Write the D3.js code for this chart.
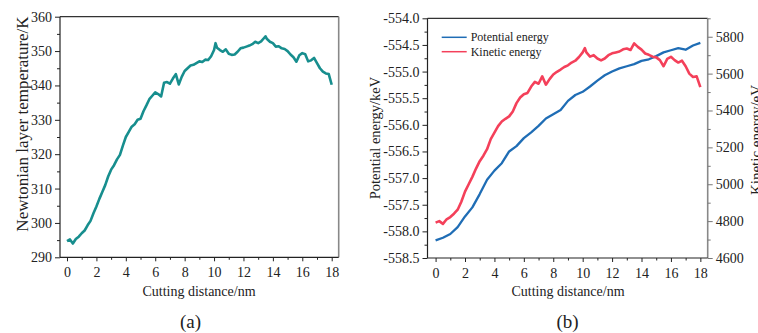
<!DOCTYPE html>
<html><head><meta charset="utf-8">
<script src="https://cdn.jsdelivr.net/npm/d3@7"></script>
<style>
html,body{margin:0;padding:0;background:#fff;}
svg text{font-family:"Liberation Serif","Times New Roman",serif !important;fill:#222;}
</style></head>
<body><svg id="c" width="758" height="333"></svg>
<script>
// ---------- Data ----------
const distA = [0,0.2,0.4,0.6,0.8,1.0,1.2,1.4,1.6,1.8,2.0,2.2,2.4,2.6,2.8,3.0,3.2,3.4,3.6,3.8,4.0,4.2,4.4,4.6,4.8,5.0,5.2,5.4,5.6,5.8,6.0,6.2,6.4,6.6,6.8,7.0,7.2,7.4,7.6,7.8,8.0,8.2,8.4,8.6,8.8,9.0,9.2,9.4,9.6,9.8,10.0,10.1,10.2,10.4,10.6,10.8,11.0,11.2,11.4,11.6,11.8,12.0,12.2,12.4,12.6,12.8,13.0,13.2,13.4,13.5,13.6,13.8,14.0,14.2,14.4,14.6,14.8,15.0,15.2,15.4,15.6,15.8,16.0,16.2,16.4,16.6,16.8,17.0,17.2,17.4,17.6,17.8,18.0];
const tempA = [294.7,295.2,294.0,295.3,296.0,297.0,297.8,299.3,300.6,302.8,304.8,307.0,309.0,311.0,313.5,315.5,316.8,318.5,319.8,322.5,325.0,326.5,328.0,328.7,330.0,330.3,332.5,334.2,336.0,337.0,338.0,337.5,336.8,340.8,341.0,340.5,342.0,343.3,340.3,342.5,344.2,345.0,345.8,346.0,346.5,347.0,346.8,347.5,347.4,348.5,350.3,352.3,351.0,350.3,349.8,350.5,349.2,348.9,349.0,349.8,350.8,351.0,351.3,351.6,352.0,352.7,352.3,352.8,353.8,354.3,353.5,352.7,352.3,351.3,351.4,350.8,350.6,350.0,349.0,348.2,346.9,348.8,349.4,349.1,347.0,347.3,348.0,346.5,345.0,344.0,343.5,343.3,340.2];

const distPE = [0,0.5,1.0,1.5,2.0,2.5,3.0,3.5,4.0,4.5,5.0,5.5,6.0,6.5,7.0,7.5,8.0,8.5,9.0,9.5,10.0,10.5,11.0,11.5,12.0,12.5,13.0,13.5,14.0,14.5,15.0,15.5,16.0,16.5,17.0,17.5,18.0];
const potential = [-558.17,-558.12,-558.05,-557.92,-557.72,-557.55,-557.3,-557.03,-556.86,-556.72,-556.5,-556.4,-556.25,-556.14,-556.02,-555.88,-555.8,-555.72,-555.55,-555.44,-555.38,-555.28,-555.17,-555.07,-555.0,-554.94,-554.9,-554.86,-554.8,-554.77,-554.71,-554.64,-554.6,-554.56,-554.59,-554.51,-554.46];

const distKE = [0,0.25,0.5,0.75,1.0,1.25,1.5,1.75,2.0,2.25,2.5,2.75,3.0,3.25,3.5,3.75,4.0,4.25,4.5,4.75,5.0,5.25,5.5,5.75,6.0,6.25,6.5,6.75,7.0,7.25,7.5,7.75,8.0,8.25,8.5,8.75,9.0,9.25,9.5,9.75,10.0,10.15,10.25,10.5,10.75,11.0,11.25,11.5,11.75,12.0,12.25,12.5,12.75,13.0,13.25,13.5,13.75,14.0,14.25,14.5,14.75,15.0,15.25,15.5,15.75,16.0,16.25,16.5,16.75,17.0,17.25,17.5,17.75,18.0];
const kinetic = [4792,4800,4785,4810,4822,4840,4862,4905,4960,5000,5040,5085,5125,5155,5190,5245,5280,5315,5340,5355,5368,5395,5440,5470,5488,5495,5530,5555,5545,5585,5540,5570,5595,5610,5622,5636,5645,5660,5670,5690,5715,5738,5715,5692,5700,5682,5672,5682,5700,5710,5715,5720,5732,5736,5728,5764,5745,5730,5709,5702,5692,5688,5673,5640,5680,5691,5673,5660,5670,5640,5600,5582,5585,5527];

const xTicks = [0,2,4,6,8,10,12,14,16,18];
const xMinor = [1,3,5,7,9,11,13,15,17];
const tempTicks = [290,300,310,320,330,340,350,360];
const tempMinor = [295,305,315,325,335,345,355];
const peTicks = [-558.5,-558.0,-557.5,-557.0,-556.5,-556.0,-555.5,-555.0,-554.5,-554.0];
const peMinor = [-558.25,-557.75,-557.25,-556.75,-556.25,-555.75,-555.25,-554.75,-554.25];
const keTicks = [4600,4800,5000,5200,5400,5600,5800];
const keMinor = [4700,4900,5100,5300,5500,5700,5900];
const seriesNames = ["Potential energy","Kinetic energy"];

// ---------- Drawing ----------
const SERIF = '"Liberation Serif","Times New Roman",serif';
const svg = d3.select("#c");
svg.append("rect").attr("width",758).attr("height",333).attr("fill","#fff");

const FS = 14;
function styleAxis(g, color){
  g.attr("font-family", SERIF);
  g.select(".domain").remove();
  g.selectAll(".tick line").attr("stroke", color).attr("stroke-width",1);
  g.selectAll(".tick text").style("font-size", FS+"px").style("font-family", SERIF).attr("fill","#222");
}

function panel(opt){
  const x = d3.scaleLinear().domain(opt.xDomain).range(opt.xRange);
  const y = d3.scaleLinear().domain(opt.yDomain).range(opt.yRange);
  const [x0,x1] = opt.xRange, [y0,y1] = opt.yRange;
  const g = svg.append("g");

  const bx = g.append("g").attr("transform",`translate(0,${y0})`)
    .call(d3.axisBottom(x).tickValues(xTicks).tickSize(4).tickPadding(4).tickFormat(d3.format("d")));
  styleAxis(bx,"#222");
  bx.selectAll(".tick text").attr("dy","0.85em");
  const bxm = g.append("g").attr("transform",`translate(0,${y0})`)
    .call(d3.axisBottom(x).tickValues(xMinor).tickSize(2.5).tickFormat(""));
  styleAxis(bxm,"#222");

  const ly = g.append("g").attr("transform",`translate(${x0},0)`)
    .call(d3.axisLeft(y).tickValues(opt.yTicks).tickSize(5).tickPadding(3).tickFormat(opt.yFmt));
  styleAxis(ly,"#222");
  const lym = g.append("g").attr("transform",`translate(${x0},0)`)
    .call(d3.axisLeft(y).tickValues(opt.yMinor).tickSize(3).tickFormat(""));
  styleAxis(lym,"#222");

  g.append("line").attr("x1",x0).attr("x2",x1).attr("y1",y1).attr("y2",y1).attr("stroke","#333").attr("stroke-width",1.2);
  g.append("line").attr("x1",x1).attr("x2",x1).attr("y1",y1).attr("y2",y0).attr("stroke","#888").attr("stroke-width",1.6);
  g.append("line").attr("x1",x0).attr("x2",x1).attr("y1",y0).attr("y2",y0).attr("stroke","#222").attr("stroke-width",1.2);
  g.append("line").attr("x1",x0).attr("x2",x0).attr("y1",y1).attr("y2",y0).attr("stroke","#222").attr("stroke-width",1.2);

  return {g,x,y};
}

function label(x,y,rot,size,txt){
  const t = svg.append("text").attr("text-anchor","middle").style("font-size",size+"px").style("font-family",SERIF).text(txt);
  if (rot) t.attr("transform",`translate(${x},${y}) rotate(-90)`); else t.attr("x",x).attr("y",y);
  return t;
}

// Panel (a)
const A = panel({xDomain:[-0.476,18.476], xRange:[60,338.7], yDomain:[290,360], yRange:[257.3,16.7],
  yTicks: tempTicks, yMinor: tempMinor, yFmt: d3.format("d")});
A.g.append("path").datum(distA.map((d,i)=>[d,tempA[i]]))
  .attr("fill","none").attr("stroke","#178e8e").attr("stroke-width",2.6).attr("stroke-linejoin","round")
  .attr("d", d3.line().x(d=>A.x(d[0])).y(d=>A.y(d[1])));
label(28,124,true,17,"Newtonian layer temperature/K");
label(199,296,false,14,"Cutting distance/nm");
label(190.5,328,false,19,"(a)");

// Panel (b)
const B = panel({xDomain:[-0.55,18.5], xRange:[427.5,707.7], yDomain:[-558.5,-554.0], yRange:[258,18.3],
  yTicks: peTicks, yMinor: peMinor, yFmt: d=>d.toFixed(1)});
const yK = d3.scaleLinear().domain([4600,5900]).range([258,18.3]);
const ry = B.g.append("g").attr("transform","translate(707.7,0)")
  .call(d3.axisRight(yK).tickValues(keTicks).tickSize(5).tickPadding(3).tickFormat(d3.format("d")));
styleAxis(ry,"#777");
const rym = B.g.append("g").attr("transform","translate(707.7,0)")
  .call(d3.axisRight(yK).tickValues(keMinor).tickSize(3).tickFormat(""));
styleAxis(rym,"#777");

B.g.append("path").datum(distPE.map((d,i)=>[d,potential[i]]))
  .attr("fill","none").attr("stroke","#1f6db5").attr("stroke-width",2.3).attr("stroke-linejoin","round")
  .attr("d", d3.line().x(d=>B.x(d[0])).y(d=>B.y(d[1])));
B.g.append("path").datum(distKE.map((d,i)=>[d,kinetic[i]]))
  .attr("fill","none").attr("stroke","#f4405a").attr("stroke-width",2.6).attr("stroke-linejoin","round")
  .attr("d", d3.line().x(d=>B.x(d[0])).y(d=>yK(d[1])));

const legColors = ["#1f6db5","#f4405a"];
seriesNames.forEach((n,i)=>{
  const yy = 37.3 + i*14.4;
  svg.append("line").attr("x1",441.7).attr("x2",466.7).attr("y1",yy).attr("y2",yy).attr("stroke",legColors[i]).attr("stroke-width",1.5);
  svg.append("text").attr("x",470.7).attr("y",yy).attr("dy","0.32em").style("font-size","12px").style("font-family",SERIF).text(n);
});

label(380,138,true,14.5,"Potential energy/keV");
label(761,140,true,15,"Kinetic energy/eV");
label(568,296,false,14,"Cutting distance/nm");
label(567.5,328,false,19,"(b)");
</script></body></html>
